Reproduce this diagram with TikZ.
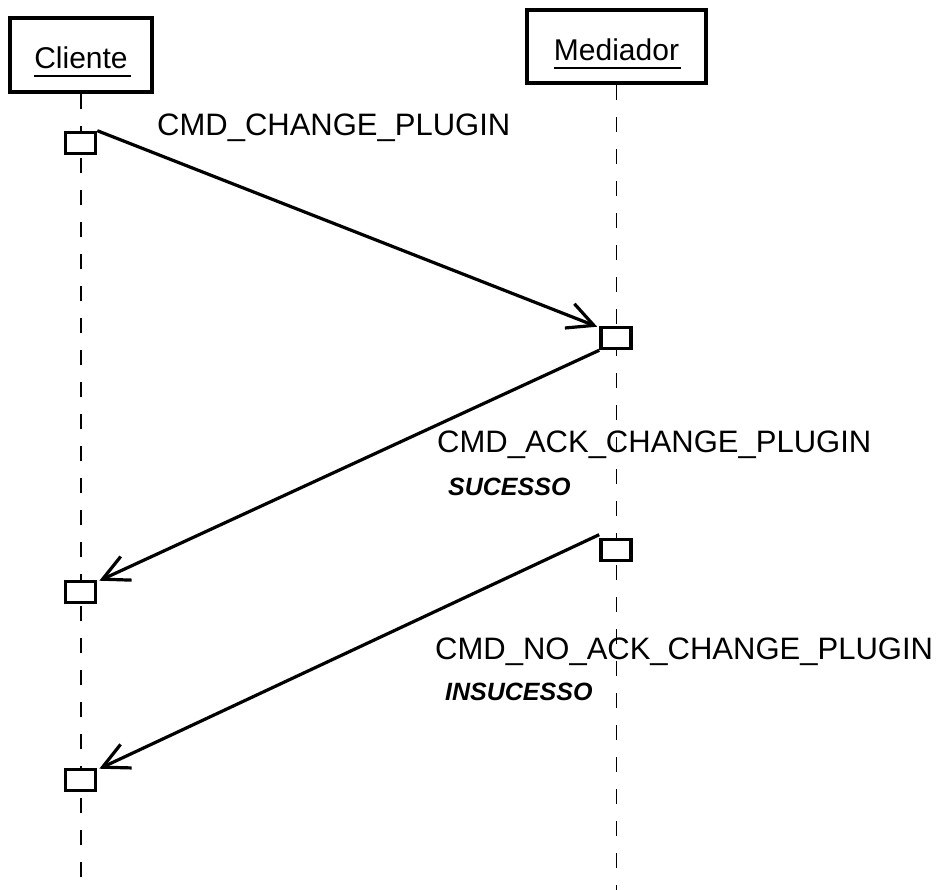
\documentclass[tikz,border=0pt]{standalone}
\usepackage{fontspec}
\setmainfont{Liberation Sans}
\usetikzlibrary{arrows.meta}
\begin{document}
\begin{tikzpicture}[x=1pt,y={(0pt,-1pt)},
  headbox/.style={draw,line width=4pt,fill=white,inner sep=0pt},
  headtext/.style={inner sep=0pt,font=\fontsize{30}{36}\selectfont},
  lifeline/.style={line width=1.8pt,dash pattern=on 15pt off 17pt},
  actbox/.style={draw,line width=3.6pt,fill=white,minimum width=30pt,minimum height=21pt,inner sep=0pt},
  msg/.style={line width=3.2pt,-{Straight Barb[length=26pt,width=26pt,line width=3.2pt]}},
  msgtext/.style={inner sep=0pt,anchor=west,font=\fontsize{31}{36}\selectfont},
  resulttext/.style={inner sep=0pt,anchor=west,font=\fontsize{25}{28}\selectfont\bfseries\itshape}]
\useasboundingbox (0,0) rectangle (951,890);
\fill[white] (0,0) rectangle (951,890);

% object heads
\node[headbox,minimum width=142pt,minimum height=74pt] (cli) at (81,55) {};
\node[headbox,minimum width=179pt,minimum height=73pt] (med) at (616.5,46.5) {};
\node[headtext] (clit) at (81,58) {Cliente};
\node[headtext] (medt) at (616.5,50) {Mediador};
\draw[line width=1.6pt] ([yshift=-7pt]clit.base west) -- ([yshift=-7pt,xshift=3pt]clit.base east);
\draw[line width=1.6pt] ([yshift=-7pt]medt.base west) -- ([yshift=-7pt,xshift=2pt]medt.base east);

% lifelines
\coordinate (cliend) at (81,890);
\coordinate (medend) at (616.5,890);
\draw[lifeline] (cli.south) -- (cliend);
\draw[lifeline] (med.south) -- (medend);

% activations
\node[actbox] (ca) at (80.5,143) {};
\node[actbox] (ma) at (616,338) {};
\node[actbox] (mb) at (616,550) {};
\node[actbox] (cb) at (80.5,592) {};
\node[actbox] (cc) at (80.5,780) {};

% messages
\draw[msg] (ca.north east) -- ([xshift=-2pt,yshift=-1pt]ma.north west);
\draw[msg] (ma.south west) -- ([xshift=2pt,yshift=-1pt]cb.north east);
\draw[msg] ([yshift=3pt]mb.north west) -- ([xshift=2pt,yshift=-1pt]cc.north east);

% labels
\node[msgtext] (l1) at (157,128) {CMD\_CHANGE\_PLUGIN};
\node[msgtext] (l2) at (437,445) {CMD\_ACK\_CHANGE\_PLUGIN};
\node[resulttext] (r2) at (448,487) {SUCESSO};
\node[msgtext] (l3) at (435,652) {CMD\_NO\_ACK\_CHANGE\_PLUGIN};
\node[resulttext] (r3) at (445,692) {INSUCESSO};
\end{tikzpicture}
\end{document}
